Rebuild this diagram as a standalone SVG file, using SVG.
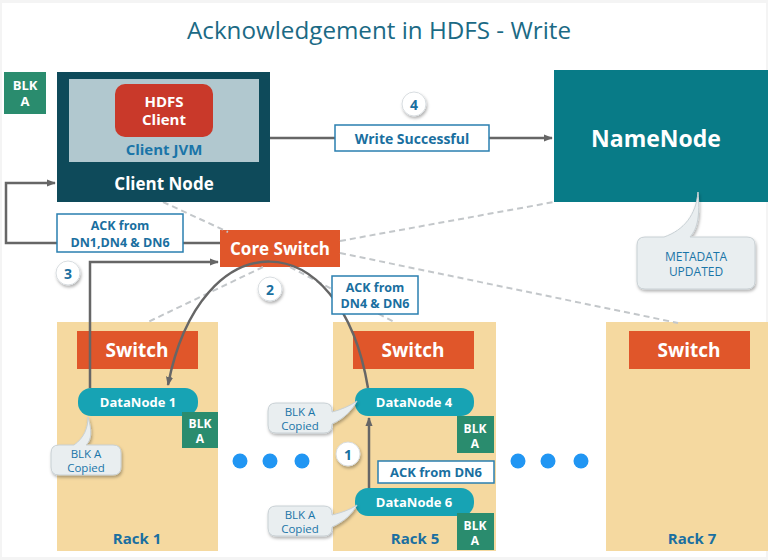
<svg xmlns="http://www.w3.org/2000/svg" width="768" height="560" viewBox="0 0 768 560">
<defs>
<marker id="ah" viewBox="0 0 10 10" refX="9" refY="5" markerWidth="9" markerHeight="9" markerUnits="userSpaceOnUse" orient="auto">
<path d="M0,1 L10,5 L0,9 z" fill="#666"/>
</marker>
<filter id="sh" x="-20%" y="-20%" width="140%" height="150%">
<feDropShadow dx="1" dy="2" stdDeviation="1.5" flood-color="#000" flood-opacity="0.3"/>
</filter>
</defs>
<style>
text{font-family:"Open Sans","Noto Sans","Liberation Sans",sans-serif;text-anchor:middle;dominant-baseline:central}
.b{font-weight:bold}
.w{fill:#fff}
.blue{fill:#1a6fa0}
.blk{fill:#2a8c6e}
.sw{fill:#e0562a}
.rack{fill:#f5d9a0}
.dn{fill:#17a3b4}
.lbl{fill:#fff;stroke:#2a7fb0;stroke-width:1.5}
.call{fill:#e9eef0;stroke:#c8d0d4;stroke-width:1}
.num{fill:#fff;stroke:#d8dde0;stroke-width:1}
.dash{stroke:#c3c7ca;stroke-width:2;stroke-dasharray:6 4;fill:none}
.ln{stroke:#666;stroke-width:2.5;fill:none}
.dot{fill:#2196f3}
.ct{font-size:11.5px;fill:#1a75a8}
</style>
<rect x="0" y="0" width="768" height="560" fill="#f4f4f4"/>
<rect x="2" y="3" width="764" height="554" fill="#fff"/>
<text x="379" y="29" font-size="24" fill="#1b6a85" textLength="384" lengthAdjust="spacingAndGlyphs">Acknowledgement in HDFS - Write</text>

<g id="rack1">
<rect class="rack" x="57" y="322" width="161" height="229"/>
<rect class="sw" x="77" y="331" width="121" height="38"/>
<text class="b w" x="137" y="350" font-size="19">Switch</text>
<text class="b blue" x="137" y="538" font-size="15">Rack 1</text>
</g>
<g id="rack5">
<rect class="rack" x="333" y="322" width="163" height="229"/>
<rect class="sw" x="353" y="331" width="121" height="38"/>
<text class="b w" x="413" y="350" font-size="19">Switch</text>
<text class="b blue" x="415" y="538" font-size="15">Rack 5</text>
</g>
<g id="rack7">
<rect class="rack" x="606" y="322" width="162" height="229"/>
<rect class="sw" x="629" y="331" width="121" height="38"/>
<text class="b w" x="689" y="350" font-size="19">Switch</text>
<text class="b blue" x="692" y="538" font-size="15">Rack 7</text>
</g>

<g id="core-switch">
<rect class="sw" x="220" y="230" width="120" height="37"/>
<text class="b w" x="280" y="248" font-size="17">Core Switch</text>
</g>

<g id="connectors">
<line class="dash" x1="163" y1="202" x2="228" y2="232"/>
<line class="dash" x1="340" y1="241" x2="554" y2="202"/>
<line class="dash" x1="340" y1="253" x2="678" y2="323"/>
<line class="dash" x1="263" y1="267" x2="148" y2="322"/>
<line class="dash" x1="290" y1="267" x2="396" y2="323"/>
<line class="ln" x1="270" y1="138" x2="552" y2="138" marker-end="url(#ah)"/>
<path class="ln" d="M220,243 H6 V183 H55" marker-end="url(#ah)"/>
<path class="ln" d="M90,388 V262 H218" marker-end="url(#ah)"/>
<path class="ln" d="M368,388 C340,220 200,220 168,385" marker-end="url(#ah)"/>
<line class="ln" x1="369" y1="488" x2="369" y2="418" marker-end="url(#ah)"/>
</g>

<g id="blk-top"><rect class="blk" x="4" y="72" width="42" height="42"/><text class="b w" x="25" y="85" font-size="13">BLK</text><text class="b w" x="25" y="101" font-size="13">A</text></g>

<g id="client-node">
<rect x="57" y="72" width="213" height="130" fill="#0e4a5a"/>
<rect x="69" y="79" width="190" height="83" fill="#b1c8cf"/>
<rect x="115" y="84" width="98" height="53" rx="10" fill="#c9392a"/>
<text class="b w" x="164" y="101" font-size="15">HDFS</text>
<text class="b w" x="164" y="119" font-size="15">Client</text>
<text class="b" x="164" y="149" font-size="15" fill="#1a75a8">Client JVM</text>
<text class="b w" x="164" y="183" font-size="17">Client Node</text>
</g>

<g id="namenode">
<rect x="554" y="70" width="214" height="132" fill="#087b87"/>
<text class="b w" x="656" y="138" font-size="23">NameNode</text>
</g>

<g id="metadata">
<path class="call" filter="url(#sh)" d="M645,237 H664 C684,230 696,215 698,192 C700,215 698,228 690,237 H747 Q755,237 755,245 V281 Q755,289 747,289 H645 Q637,289 637,281 V245 Q637,237 645,237 z"/>
<text x="696" y="256" font-size="12" fill="#1a75a8">METADATA</text>
<text x="696" y="271" font-size="12" fill="#1a75a8">UPDATED</text>
</g>

<g id="write-successful">
<rect class="lbl" x="335" y="125" width="154" height="26"/>
<text class="b blue" x="412" y="138" font-size="14">Write Successful</text>
</g>
<g id="step4"><circle class="num" cx="414" cy="104" r="12" filter="url(#sh)"/><text class="b blue" x="414" y="104" font-size="14">4</text></g>

<g id="ack-dn146">
<rect class="lbl" x="57" y="214" width="126" height="38"/>
<text class="b blue" x="120" y="225" font-size="12.5">ACK from</text>
<text class="b blue" x="120" y="242" font-size="12.5">DN1,DN4 &amp; DN6</text>
</g>
<g id="step3"><circle class="num" cx="68" cy="273" r="12" filter="url(#sh)"/><text class="b blue" x="68" y="273" font-size="14">3</text></g>

<g id="step2"><circle class="num" cx="270" cy="289" r="12" filter="url(#sh)"/><text class="b blue" x="270" y="289" font-size="14">2</text></g>

<g id="ack-dn46">
<rect class="lbl" x="332" y="276" width="86" height="38"/>
<text class="b blue" x="375" y="287" font-size="12.5">ACK from</text>
<text class="b blue" x="375" y="303" font-size="12.5">DN4 &amp; DN6</text>
</g>

<g id="datanode1">
<rect class="dn" x="78" y="388" width="120" height="28" rx="13"/>
<text class="b w" x="138" y="402" font-size="13">DataNode 1</text>
<rect class="blk" x="182" y="412" width="36" height="36"/>
<text class="b w" x="200" y="423" font-size="12">BLK</text><text class="b w" x="200" y="438" font-size="12">A</text>
</g>
<g id="copied1">
<path class="call" filter="url(#sh)" d="M59,445 H74 C84,438 88,428 88,417 C92,430 92,440 86,445 H113 Q121,445 121,453 V467 Q121,475 113,475 H59 Q51,475 51,467 V453 Q51,445 59,445 z"/>
<text class="ct" x="86" y="453">BLK A</text>
<text class="ct" x="86" y="467">Copied</text>
</g>

<g id="datanode4">
<rect class="dn" x="355" y="388" width="119" height="28" rx="13"/>
<text class="b w" x="414" y="402" font-size="13">DataNode 4</text>
<rect class="blk" x="457" y="416" width="37" height="37"/>
<text class="b w" x="475" y="428" font-size="12">BLK</text><text class="b w" x="475" y="443" font-size="12">A</text>
</g>
<g id="copied4">
<path class="call" filter="url(#sh)" d="M276,403 H324 Q332,403 332,411 V412 C340,410 350,406 357,401 C352,410 345,418 332,424 V425 Q332,433 324,433 H276 Q268,433 268,425 V411 Q268,403 276,403 z"/>
<text class="ct" x="300" y="411">BLK A</text>
<text class="ct" x="300" y="425">Copied</text>
</g>

<g id="datanode6">
<rect class="dn" x="355" y="488" width="119" height="28" rx="13"/>
<text class="b w" x="414" y="502" font-size="13">DataNode 6</text>
<rect class="blk" x="457" y="513" width="37" height="37"/>
<text class="b w" x="475" y="525" font-size="12">BLK</text><text class="b w" x="475" y="540" font-size="12">A</text>
</g>
<g id="copied6">
<path class="call" filter="url(#sh)" d="M276,506 H324 Q332,506 332,514 V515 C340,513 350,510 357,505 C352,514 345,521 332,527 V528 Q332,536 324,536 H276 Q268,536 268,528 V514 Q268,506 276,506 z"/>
<text class="ct" x="300" y="514">BLK A</text>
<text class="ct" x="300" y="528">Copied</text>
</g>

<g id="ack-dn6">
<rect class="lbl" x="378" y="461" width="116" height="22"/>
<text class="b blue" x="436" y="472" font-size="13">ACK from DN6</text>
</g>
<g id="step1"><circle class="num" cx="348" cy="454" r="12" filter="url(#sh)"/><text class="b blue" x="348" y="454" font-size="14">1</text></g>

<g id="dots-left"><circle class="dot" cx="240" cy="461" r="7.5"/><circle class="dot" cx="270" cy="461" r="7.5"/><circle class="dot" cx="302" cy="461" r="7.5"/></g>
<g id="dots-right"><circle class="dot" cx="518" cy="461" r="7.5"/><circle class="dot" cx="548" cy="461" r="7.5"/><circle class="dot" cx="581" cy="461" r="7.5"/></g>
</svg>
